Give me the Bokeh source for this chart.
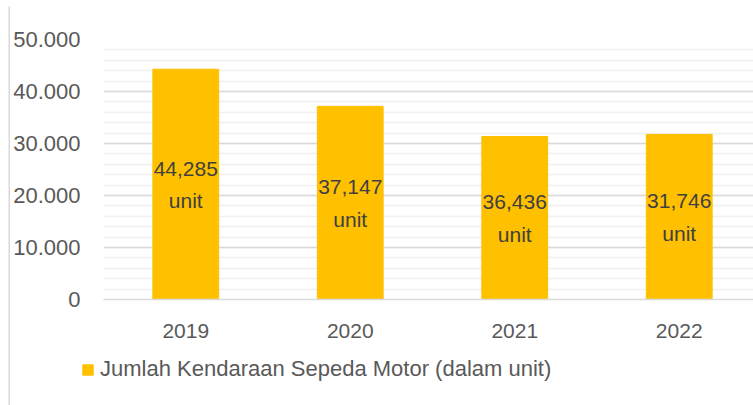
from bokeh.plotting import figure
from bokeh.models import ColumnDataSource, Range1d, FixedTicker, Legend, LegendItem, Spacer
from bokeh.layouts import column, row
from bokeh.core.properties import value
from bokeh.embed import file_html
from bokeh.resources import INLINE

years = ["2019", "2020", "2021", "2022"]
bar_values = [44285, 37147, 31350, 31746]
label_numbers = ["44,285", "37,147", "36,436", "31,746"]
label_unit = "unit"
y_ticks = [0, 10000, 20000, 30000, 40000, 50000]
y_tick_labels = ["0", "10.000", "20.000", "30.000", "40.000", "50.000"]
series_name = "Jumlah Kendaraan Sepeda Motor (dalam unit)"

FONT = "Liberation Sans"
BAR_COLOR = "#FFC000"
EDGE = "#d9d9d9"

xs = [i + 0.5 for i in range(len(years))]
src = ColumnDataSource(dict(
    x=xs,
    top=bar_values,
    mid=[v / 2 for v in bar_values],
    label=[f"{n}\n{label_unit}" for n in label_numbers],
))

p = figure(width=743, height=348, output_backend="svg", toolbar_location=None,
           x_range=Range1d(0, 652 / 165), y_range=Range1d(0, 50000),
           min_border_left=91, min_border_right=0, min_border_top=33, min_border_bottom=55)
p.outline_line_color = None
p.background_fill_color = "white"
p.border_fill_color = "white"

p.vbar(x="x", top="top", width=0.4, source=src, color=BAR_COLOR)

p.text(x="x", y="mid", text="label", source=src, text_align="center", text_baseline="middle",
       text_font=value(FONT), text_font_size="21px", text_color="#404040", text_line_height=1.4)

p.yaxis.ticker = FixedTicker(ticks=y_ticks)
p.yaxis.major_label_overrides = {t: s for t, s in zip(y_ticks, y_tick_labels)}
p.yaxis.axis_line_color = None
p.yaxis.major_tick_line_color = None
p.yaxis.minor_tick_line_color = None
p.yaxis.major_label_standoff = 17
p.yaxis.major_label_text_font = FONT
p.yaxis.major_label_text_font_size = "22px"
p.yaxis.major_label_text_color = "#595959"

p.xaxis.ticker = FixedTicker(ticks=xs)
p.xaxis.major_label_overrides = {x: y for x, y in zip(xs, years)}
p.xaxis.axis_line_color = EDGE
p.xaxis.axis_line_width = 1.5
p.xaxis.major_tick_line_color = None
p.xaxis.minor_tick_line_color = None
p.xaxis.major_label_standoff = 18
p.xaxis.major_label_text_font = FONT
p.xaxis.major_label_text_font_size = "21px"
p.xaxis.major_label_text_color = "#595959"

p.xgrid.grid_line_color = None
p.ygrid.ticker = FixedTicker(ticks=y_ticks, minor_ticks=list(range(0, 50001, 2000)))
p.ygrid.grid_line_color = EDGE
p.ygrid.grid_line_width = 1.5
p.ygrid.minor_grid_line_color = "#f0f0f0"
p.ygrid.minor_grid_line_width = 1.5
p.ygrid.level = "underlay"


def blank(w, h, fill):
    f = figure(width=w, height=h, output_backend="svg", toolbar_location=None,
               x_axis_type=None, y_axis_type=None,
               min_border_left=0, min_border_right=0, min_border_top=0, min_border_bottom=0)
    f.outline_line_color = None
    f.grid.visible = False
    f.background_fill_color = fill
    f.border_fill_color = fill
    return f


# legend strip: a hidden copy of the bar series only supplies the legend swatch
p2 = blank(743, 51, "white")
p2.x_range = Range1d(0, 4)
p2.y_range = Range1d(0, 50000)
r2 = p2.vbar(x="x", top="top", width=0.4, source=src, color=BAR_COLOR, visible=False)
leg = Legend(items=[LegendItem(label=series_name, renderers=[r2])])
leg.location = (71, 23)
leg.orientation = "horizontal"
leg.background_fill_alpha = 0
leg.border_line_color = None
leg.inactive_fill_alpha = 0
leg.padding = 0
leg.margin = 0
leg.spacing = 0
leg.glyph_width = 13
leg.glyph_height = 13
leg.label_height = 22
leg.label_standoff = 6
leg.label_text_font = FONT
leg.label_text_font_size = "22px"
leg.label_text_color = "#595959"
p2.add_layout(leg, "center")

top_edge = blank(745, 2, EDGE)
left_edge = blank(2, 399, EDGE)

layout = column(
    Spacer(width=753, height=4),
    row(Spacer(width=8, height=401),
        column(top_edge,
               row(left_edge,
                   column(p, row(p2), spacing=0),
                   spacing=0),
               spacing=0),
        spacing=0),
    spacing=0)

open("out.html", "w").write(file_html(layout, INLINE))
